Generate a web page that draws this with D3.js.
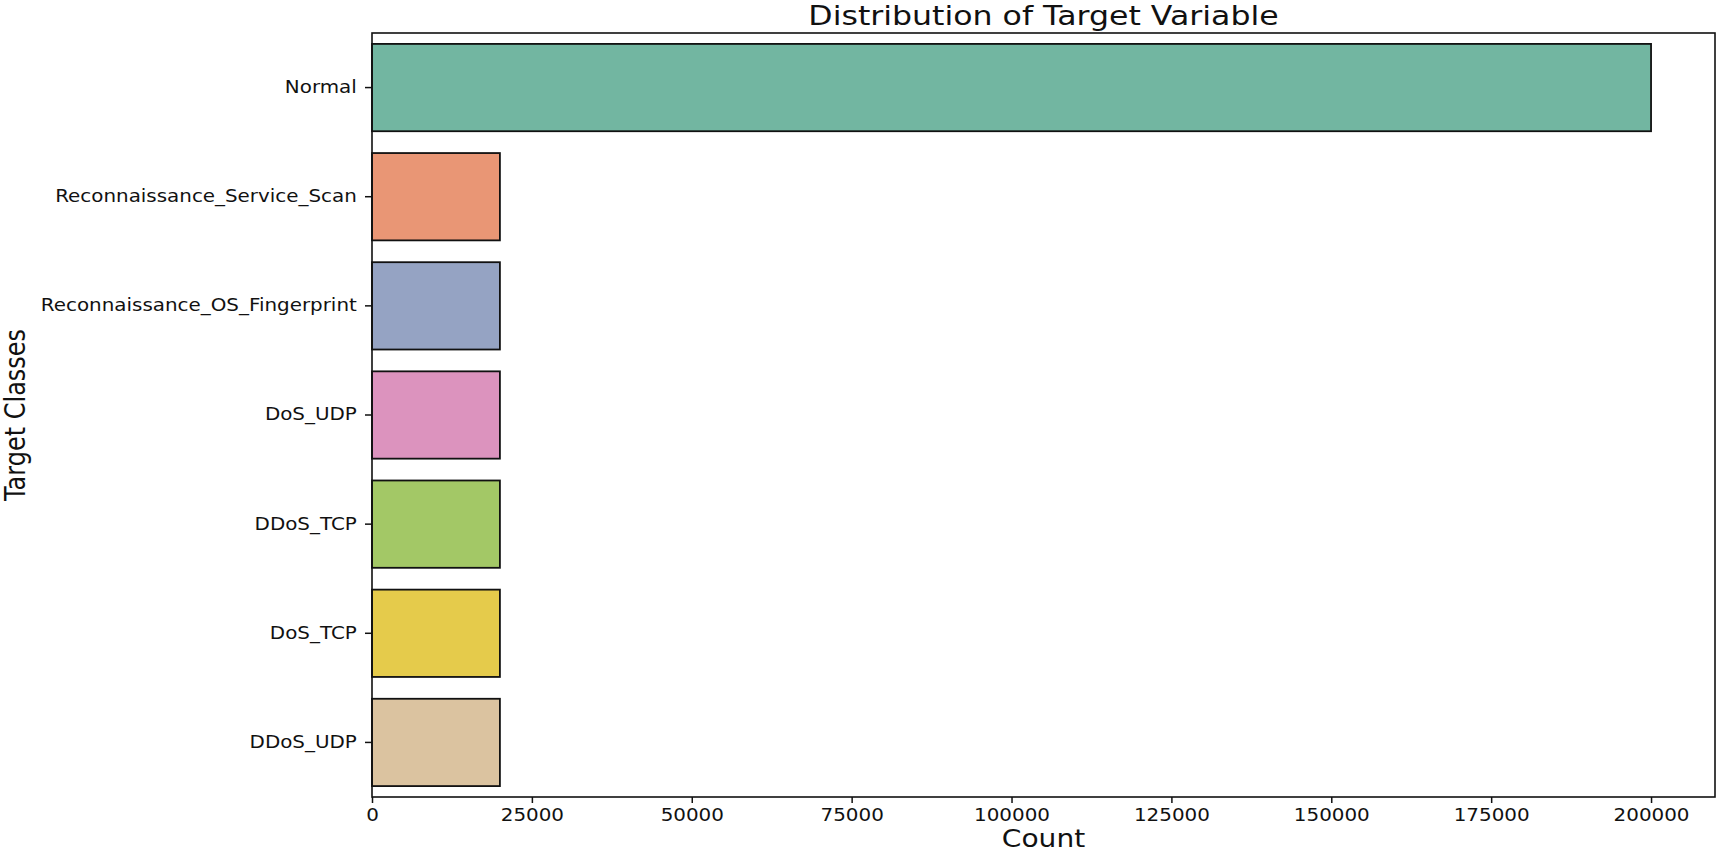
<!DOCTYPE html>
<html>
<head>
<meta charset="utf-8">
<script src="https://cdn.jsdelivr.net/npm/d3@7"></script>
<style>
  body { margin: 0; background: #fff; }
  text { font-family: "DejaVu Sans", sans-serif; fill: #111; }
</style>
</head>
<body>
<svg id="chart" width="1720" height="855"></svg>
<script>
// categories and counts, top to bottom
const classes = ['Normal', 'Reconnaissance_Service_Scan', 'Reconnaissance_OS_Fingerprint',
                 'DoS_UDP', 'DDoS_TCP', 'DoS_TCP', 'DDoS_UDP'];
const counts = [200000, 20000, 20000, 20000, 20000, 20000, 20000];
const barColors = ['#72b6a1', '#e99675', '#95a3c3', '#dc93be', '#a3c866', '#e5cb4b', '#dbc3a0'];
const xTicks = [0, 25000, 50000, 75000, 100000, 125000, 150000, 175000, 200000];

const data = classes.map((c, i) => ({ name: c, value: counts[i], color: barColors[i] }));

const svg = d3.select('#chart');
const plotL = 372, plotR = 1715, plotT = 33, plotB = 797;
const stretch = 1.17; // the source picture is a bit wider than tall, text included

const x = d3.scaleLinear().domain([0, 210000]).range([plotL, plotR]);
const y = d3.scaleBand().domain(classes).range([plotT, plotB]).paddingInner(0.2).paddingOuter(0.1);

// bars
svg.selectAll('.bar')
  .data(data)
  .enter()
  .append('rect')
  .attr('class', 'bar')
  .attr('x', x(0))
  .attr('y', d => y(d.name))
  .attr('width', d => x(d.value) - x(0))
  .attr('height', y.bandwidth())
  .attr('fill', d => d.color)
  .attr('stroke', '#111')
  .attr('stroke-width', 1.8);

// axes
const xAxis = svg.append('g')
  .attr('transform', `translate(0,${plotB})`)
  .call(d3.axisBottom(x).tickValues(xTicks).tickFormat(d3.format('d')).tickSize(6).tickPadding(6));
xAxis.select('.domain').remove();
xAxis.selectAll('text').style('font-size', '17px').attr('transform', `scale(${stretch},1)`);
xAxis.selectAll('line').attr('stroke', '#111').attr('stroke-width', 1.5);

const yAxis = svg.append('g')
  .attr('transform', `translate(${plotL},0)`)
  .call(d3.axisLeft(y).tickSize(7).tickPadding(6));
yAxis.select('.domain').remove();
yAxis.selectAll('text').style('font-size', '17px').attr('transform', `scale(${stretch},1)`);
yAxis.selectAll('line').attr('stroke', '#111').attr('stroke-width', 1.5);

// frame
svg.append('rect')
  .attr('x', plotL)
  .attr('y', plotT)
  .attr('width', plotR - plotL)
  .attr('height', plotB - plotT)
  .attr('fill', 'none')
  .attr('stroke', '#111')
  .attr('stroke-width', 1.6);

// title and axis labels
svg.append('text')
  .attr('transform', `translate(${(plotL + plotR) / 2},25) scale(${stretch},1)`)
  .attr('text-anchor', 'middle')
  .style('font-size', '27px')
  .text('Distribution of Target Variable');

svg.append('text')
  .attr('transform', `translate(${(plotL + plotR) / 2},847) scale(${stretch},1)`)
  .attr('text-anchor', 'middle')
  .style('font-size', '24px')
  .text('Count');

svg.append('text')
  .attr('transform', `translate(25,${(plotT + plotB) / 2}) scale(${stretch},1) rotate(-90)`)
  .attr('text-anchor', 'middle')
  .style('font-size', '24px')
  .text('Target Classes');
</script>
</body>
</html>
